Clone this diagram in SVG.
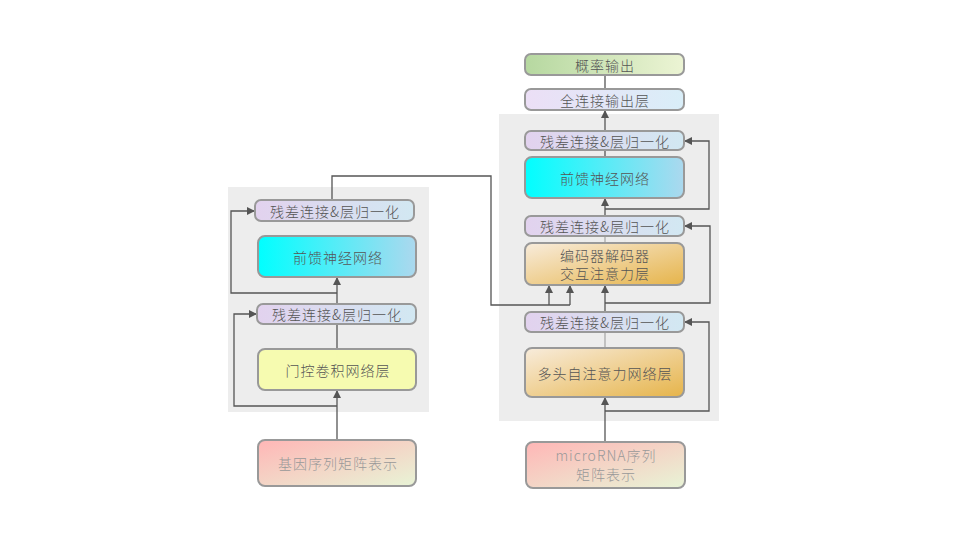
<svg xmlns="http://www.w3.org/2000/svg" width="960" height="540" viewBox="0 0 960 540">
<defs>
<linearGradient id="gRes" x1="0" y1="0" x2="1" y2="0"><stop offset="0" stop-color="#e2d2ee"/><stop offset="1" stop-color="#d2e8f2"/></linearGradient>
<linearGradient id="gFF" x1="0" y1="0" x2="1" y2="0"><stop offset="0" stop-color="#00ffff"/><stop offset="1" stop-color="#acd8ee"/></linearGradient>
<linearGradient id="gIn" x1="0" y1="0" x2="1" y2="1"><stop offset="0" stop-color="#ffb6b6"/><stop offset="1" stop-color="#e8f4d6"/></linearGradient>
<linearGradient id="gAtt" x1="0" y1="0" x2="1" y2="1"><stop offset="0" stop-color="#f8ecdc"/><stop offset="1" stop-color="#e6b44a"/></linearGradient>
<linearGradient id="gProb" x1="0" y1="0" x2="1" y2="0"><stop offset="0" stop-color="#b6d8a0"/><stop offset="1" stop-color="#ecf4d4"/></linearGradient>
<linearGradient id="gFC" x1="0" y1="0" x2="1" y2="0"><stop offset="0" stop-color="#ecdff6"/><stop offset="1" stop-color="#d9eef8"/></linearGradient>
<marker id="arr" viewBox="0 0 10 10" refX="10" refY="5" markerWidth="8" markerHeight="8" markerUnits="userSpaceOnUse" orient="auto"><path d="M0,0 L10,5 L0,10 z" fill="#555"/></marker>
<style>
.node rect{stroke:#999;stroke-width:2}
text{font-family:"Noto Sans CJK SC","Noto Sans",sans-serif;font-size:14px;font-weight:300;letter-spacing:1px;fill:#555;text-anchor:middle;dominant-baseline:central}
.in text{fill:#999}
.bg{fill:#ededed}
#connectors path{fill:none;stroke:#555;stroke-width:1.3}
#connectors path.arr{marker-end:url(#arr)}
#connectors path.light{stroke:#aaa}
</style>
</defs>
<rect class="bg" x="228" y="187" width="201" height="225"/>
<rect class="bg" x="499" y="114" width="220" height="307"/>
<g id="connectors">
<path class="arr" d="M337,440 V390"/>
<path class="arr" d="M337,406 H234 V314 H257"/>
<path d="M337,349 V324"/>
<path class="arr" d="M337,304 V277"/>
<path class="arr" d="M337,293 H231 V211 H255"/>
<path d="M332,200 V176 H491 V305 H570"/>
<path class="arr" d="M549,305 V285"/>
<path class="arr" d="M570,305 V285"/>
<path class="arr" d="M605,442 V397"/>
<path class="arr" d="M605,411 H709 V322 H684"/>
<path class="light" d="M605,348 V332"/>
<path class="arr" d="M605,312 V285"/>
<path class="arr" d="M605,303 H710 V226 H684"/>
<path class="light" d="M605,243 V236"/>
<path class="arr" d="M605,216 V198"/>
<path class="arr" d="M605,209 H709 V141 H684"/>
<path d="M605,157 V150"/>
<path class="arr" d="M605,131 V110"/>
<path d="M605,89 V75"/>
</g>
<g id="L_res2" class="node"><rect x="255" y="200" width="159" height="21" rx="6" fill="url(#gRes)"/><text x="335" y="211">残差连接&amp;层归一化</text></g>
<g id="L_ff" class="node"><rect x="258" y="236" width="158" height="41" rx="7" fill="url(#gFF)"/><text x="338" y="256.5">前馈神经网络</text></g>
<g id="L_res1" class="node"><rect x="257" y="304" width="159" height="20" rx="6" fill="url(#gRes)"/><text x="337" y="314">残差连接&amp;层归一化</text></g>
<g id="L_gcn" class="node"><rect x="258" y="349" width="158" height="41" rx="7" fill="#f6fbb0"/><text x="338" y="369.5">门控卷积网络层</text></g>
<g id="L_in" class="node in"><rect x="258" y="440" width="158" height="46" rx="7" fill="url(#gIn)"/><text x="338" y="463">基因序列矩阵表示</text></g>
<g id="R_prob" class="node"><rect x="525" y="54" width="159" height="21" rx="6" fill="url(#gProb)"/><text x="605" y="64.5">概率输出</text></g>
<g id="R_fc" class="node"><rect x="525" y="89" width="159" height="21" rx="6" fill="url(#gFC)"/><text x="605" y="99.5">全连接输出层</text></g>
<g id="R_res3" class="node"><rect x="525" y="131" width="159" height="19" rx="6" fill="url(#gRes)"/><text x="605" y="140.5">残差连接&amp;层归一化</text></g>
<g id="R_ff" class="node"><rect x="525" y="157" width="159" height="41" rx="7" fill="url(#gFF)"/><text x="605" y="177.5">前馈神经网络</text></g>
<g id="R_res2" class="node"><rect x="525" y="216" width="159" height="20" rx="6" fill="url(#gRes)"/><text x="605" y="226">残差连接&amp;层归一化</text></g>
<g id="R_cross" class="node"><rect x="525" y="243" width="159" height="42" rx="7" fill="url(#gAtt)"/><text x="605" y="254.5">编码器解码器</text><text x="605" y="273">交互注意力层</text></g>
<g id="R_res1" class="node"><rect x="525" y="312" width="159" height="20" rx="6" fill="url(#gRes)"/><text x="605" y="322">残差连接&amp;层归一化</text></g>
<g id="R_mha" class="node"><rect x="525" y="348" width="159" height="49" rx="7" fill="url(#gAtt)"/><text x="605" y="372.5">多头自注意力网络层</text></g>
<g id="R_in" class="node in"><rect x="526" y="442" width="159" height="46" rx="7" fill="url(#gIn)"/><text x="606" y="454.5">microRNA序列</text><text x="606" y="474">矩阵表示</text></g>
</svg>
